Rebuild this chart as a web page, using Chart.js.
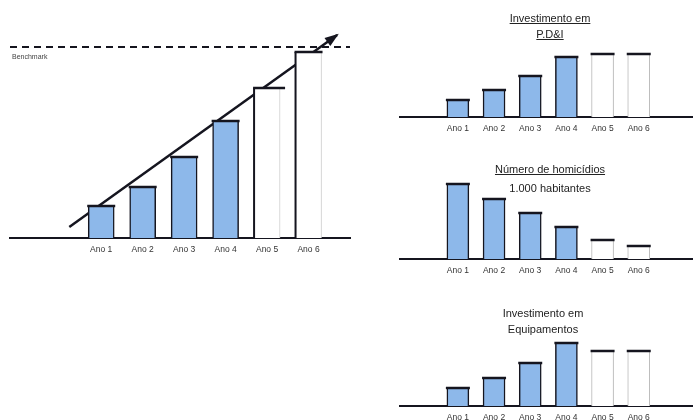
<!DOCTYPE html>
<html>
<head>
<meta charset="utf-8">
<script src="https://cdn.jsdelivr.net/npm/chart.js@4"></script>
<style>
  body { margin: 0; background: #fff; }
  #wrap { position: relative; width: 693px; height: 420px; overflow: hidden; background: #fff; }
  canvas { position: absolute; }
  .ttl { position: absolute; width: 200px; text-align: center; font: 11px "Liberation Sans", Arial, sans-serif; color: #222; line-height: 16px; }
  .ttl u { text-decoration-thickness: 1px; }
</style>
</head>
<body>
<div id="wrap">
  <canvas id="mainChart" style="left:0;top:0;width:360px;height:262px"></canvas>
  <canvas id="pdiChart" style="left:390px;top:0;width:303px;height:140px"></canvas>
  <canvas id="homChart" style="left:390px;top:140px;width:303px;height:140px"></canvas>
  <canvas id="equipChart" style="left:390px;top:280px;width:303px;height:140px"></canvas>
  <div class="ttl" style="left:450px;top:10px"><u>Investimento em</u><br><u>P.D&amp;I</u></div>
  <div class="ttl" style="left:450px;top:160px;line-height:19px"><u>Número de homicídios</u><br>1.000 habitantes</div>
  <div class="ttl" style="left:443px;top:305px">Investimento em<br>Equipamentos</div>
</div>
<script>
// --- Data ---
const years = ['Ano 1', 'Ano 2', 'Ano 3', 'Ano 4', 'Ano 5', 'Ano 6'];
const actualYears = 4; // first four are realised, the rest are targets

const mainValues = [32, 51, 81, 117, 150, 186];
const benchmarkValue = 191;
const trendX = [0.23, 6.69];
const trendY = [11, 203];

const pdiValues = [17, 27, 41, 60, 63, 63];
const homicideValues = [75, 60, 46, 32, 19, 13];
const equipValues = [18, 28, 43, 63, 55, 55];

const FONT = '"Liberation Sans", Arial, sans-serif';
const BLUE = '#8db8ea';
const DARK = '#15151f';

// draws the dark top cap (and left edge for target bars on the big chart)
const capPlugin = {
  id: 'caps',
  afterDatasetsDraw(chart, args, opts) {
    const meta = chart.getDatasetMeta(0);
    const ctx = chart.ctx;
    ctx.save();
    ctx.strokeStyle = DARK;
    ctx.lineWidth = 2.5;
    meta.data.forEach((bar, i) => {
      const half = bar.width / 2;
      const ext = (opts.extend && i === actualYears) ? 4 : 0;
      ctx.beginPath();
      ctx.moveTo(bar.x - half - 1, bar.y);
      ctx.lineTo(bar.x + half + 1 + ext, bar.y);
      ctx.stroke();
      if (opts.darkLeft && i >= actualYears) {
        ctx.lineWidth = 2;
        ctx.beginPath();
        ctx.moveTo(bar.x - half, bar.y);
        ctx.lineTo(bar.x - half, bar.base);
        ctx.stroke();
        ctx.lineWidth = 2.5;
      }
    });
    ctx.restore();
  }
};

// arrow head at the end of the trend line + benchmark label
const arrowPlugin = {
  id: 'arrow',
  afterDatasetsDraw(chart) {
    const ctx = chart.ctx;
    const pts = chart.getDatasetMeta(2).data;
    const a = pts[0], b = pts[pts.length - 1];
    const ang = Math.atan2(b.y - a.y, b.x - a.x);
    const len = 12, wid = 5;
    ctx.save();
    ctx.fillStyle = DARK;
    ctx.beginPath();
    ctx.moveTo(b.x + Math.cos(ang) * 2, b.y + Math.sin(ang) * 2);
    ctx.lineTo(b.x - Math.cos(ang) * len - Math.sin(ang) * wid, b.y - Math.sin(ang) * len + Math.cos(ang) * wid);
    ctx.lineTo(b.x - Math.cos(ang) * len + Math.sin(ang) * wid, b.y - Math.sin(ang) * len - Math.cos(ang) * wid);
    ctx.closePath();
    ctx.fill();
    const yb = chart.scales.y.getPixelForValue(benchmarkValue);
    ctx.font = '7px ' + FONT;
    ctx.fillStyle = '#444';
    ctx.textBaseline = 'top';
    ctx.fillText('Benchmark', chart.chartArea.left + 2, yb + 7);
    ctx.restore();
  }
};

function xScale(min, max, axisHeight) {
  return {
    type: 'linear', min, max, offset: false,
    grid: { display: false, drawTicks: false },
    border: { display: true, color: DARK, width: 2 },
    ticks: {
      font: { family: FONT, size: 8.5 }, color: '#333', padding: 7,
      autoSkip: false, maxRotation: 0,
      callback: (v) => years[v - 1] ?? '',
    },
    afterBuildTicks: (s) => { s.ticks = years.map((_, i) => ({ value: i + 1 })); },
    afterFit: (s) => { s.height = axisHeight; },
  };
}

function barDataset(values, thickness, sideColor) {
  return {
    type: 'bar',
    data: values.map((v, i) => ({ x: i + 1, y: v })),
    backgroundColor: values.map((_, i) => i < actualYears ? BLUE : '#fff'),
    borderColor: values.map((_, i) => i < actualYears ? DARK : sideColor),
    borderWidth: values.map((_, i) => i < actualYears
      ? { top: 0, left: 1.5, right: 1.5, bottom: 0 }
      : { top: 0, left: 1, right: 1, bottom: 0 }),
    borderSkipped: 'bottom',
    barThickness: thickness,
  };
}

function baseOptions(padding) {
  return {
    responsive: false,
    animation: false,
    events: [],
    layout: { padding },
    plugins: { legend: { display: false }, tooltip: { enabled: false } },
  };
}

function setSize(id) {
  const c = document.getElementById(id);
  c.width = parseInt(c.style.width);
  c.height = parseInt(c.style.height);
  return c;
}

// --- Main chart ---
new Chart(setSize('mainChart'), {
  data: {
    datasets: [
      barDataset(mainValues, 26, '#cfcfcf'),
      {
        type: 'line',
        data: [{ x: -1.2, y: benchmarkValue }, { x: 7, y: benchmarkValue }],
        borderColor: DARK, borderWidth: 2, borderDash: [7, 5],
        pointRadius: 0, clip: false,
      },
      {
        type: 'line',
        data: trendX.map((x, i) => ({ x, y: trendY[i] })),
        borderColor: DARK, borderWidth: 2.5,
        pointRadius: 0, clip: false,
      },
    ],
  },
  options: {
    ...baseOptions({ top: 28, left: 10, right: 10, bottom: 0 }),
    scales: { x: xScale(-1.2, 7, 24), y: { display: false, min: 0, max: 210 } },
    plugins: {
      legend: { display: false }, tooltip: { enabled: false },
      caps: { darkLeft: true, extend: true },
    },
  },
  plugins: [capPlugin, arrowPlugin],
});

// --- Small charts ---
function smallChart(id, values, top, axisHeight, ymax) {
  new Chart(setSize(id), {
    data: { datasets: [barDataset(values, 22, '#b8b8b8')] },
    options: {
      ...baseOptions({ top, left: 10, right: 0, bottom: 0 }),
      scales: { x: xScale(-0.6, 7.5, axisHeight), y: { display: false, min: 0, max: ymax } },
    },
    plugins: [capPlugin],
  });
}

smallChart('pdiChart', pdiValues, 37, 23, 80);
smallChart('homChart', homicideValues, 39, 21, 80);
smallChart('equipChart', equipValues, 46, 14, 80);
</script>
</body>
</html>
